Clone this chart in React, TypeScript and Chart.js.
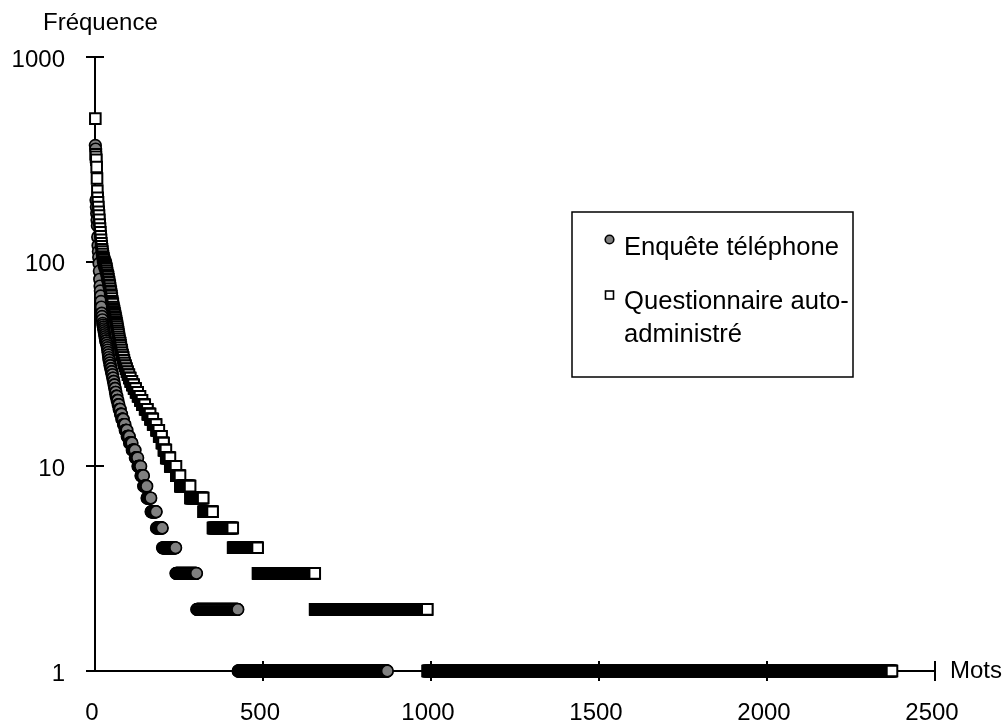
import React, { useEffect, useRef } from "react";
import { Chart, registerables } from "chart.js";

Chart.register(...registerables);

const FONT = "'Liberation Sans', Arial, sans-serif";

// Axis ticks
const xTickValues = [0, 500, 1000, 1500, 2000, 2500];
const yTickValues = [1, 10, 100, 1000];

// Axis titles and legend labels
const yTitle = "Fréquence";
const xTitle = "Mots";
const phoneLabel = "Enquête téléphone";
const selfLabelLines = ["Questionnaire auto-", "administré"];

// Enquête téléphone: frequency of each word, by rank (top words one by one)
const phoneTopFreqs = [
  370, 355, 200, 185, 172, 160, 150, 132, 120, 112, 105, 98, 90, 82, 76, 72,
  68, 64, 60, 56, 54, 52, 50, 49, 48, 47, 46, 45, 44, 43, 42,
];
// then the frequency spectrum: frequency level / number of words at that level
const phoneFreqs = [
  41, 40, 39, 38, 37, 36, 35, 34, 33, 32, 31, 30, 29, 28, 27, 26, 25, 24, 23,
  22, 21, 20, 19, 18, 17, 16, 15, 14, 13, 12, 11, 10, 9, 8, 7, 6, 5, 4, 3, 2, 1,
];
const phoneCounts = [
  2, 2, 1, 1, 1, 1, 1, 1, 2, 1, 2, 2, 2, 2, 2, 2, 2, 2, 2,
  3, 3, 3, 4, 4, 5, 5, 6, 7, 8, 9, 8, 9, 8, 10, 12, 16, 18, 40, 62, 123, 445,
];

// Questionnaire auto-administré: top words one by one
const selfTopFreqs = [
  500, 335, 325, 315, 290, 255, 222, 205, 195, 185, 175, 168, 160, 152, 145,
  139, 133, 128, 123, 119, 115, 112, 109, 106, 104, 102, 100, 99, 98, 97, 96,
  95, 93, 92, 90, 88, 86, 85, 84, 82, 80, 79, 77, 76, 74, 72, 71, 69, 68, 66,
  64, 63, 62, 60, 59, 58, 57, 56, 55, 54, 53, 52, 51, 50, 49, 48, 47, 46, 45,
];
// then the frequency spectrum
const selfFreqs = [
  44, 43, 42, 41, 40, 39, 38, 37, 36, 35, 34, 33, 32, 31, 30, 29, 28, 27, 26,
  25, 24, 23, 22, 21, 20, 19, 18, 17, 16, 15, 14, 13, 12, 11, 10, 9, 8, 7, 6,
  5, 4, 3, 2, 1,
];
const selfCounts = [
  1, 1, 1, 1, 2, 1, 1, 2, 1, 2, 2, 2, 2, 3, 3, 3, 4, 4, 5,
  5, 6, 6, 7, 6, 8, 8, 8, 8, 10, 8, 8, 6, 7, 12, 18, 12, 30, 39, 28,
  60, 74, 170, 335, 1383,
];

function rankPoints(top: number[], freqs: number[], counts: number[]) {
  const pts: { x: number; y: number }[] = [];
  let rank = 0;
  top.forEach((f) => {
    rank += 1;
    pts.push({ x: rank, y: f });
  });
  freqs.forEach((f, i) => {
    for (let k = 0; k < counts[i]; k++) {
      rank += 1;
      pts.push({ x: rank, y: f });
    }
  });
  return pts;
}

function baseY(scales: any) {
  return Math.round(scales.y.getPixelForValue(1));
}

const customPlugin = {
  id: "customAxesLegend",
  beforeDatasetsDraw(chart: any) {
    const { ctx, scales } = chart;
    const xs = scales.x;
    const ys = scales.y;
    const x0 = Math.round(xs.getPixelForValue(0));
    const x1 = Math.round(xs.getPixelForValue(2500));
    const yb = baseY(scales);
    const yt = Math.round(ys.getPixelForValue(1000));
    ctx.save();
    ctx.strokeStyle = "#000";
    ctx.lineWidth = 2;
    ctx.beginPath();
    ctx.moveTo(x0, yt);
    ctx.lineTo(x0, yb);
    ctx.moveTo(x0, yb);
    ctx.lineTo(x1, yb);
    yTickValues.forEach((v) => {
      const y = Math.round(ys.getPixelForValue(v));
      ctx.moveTo(x0 - 9, y);
      ctx.lineTo(x0 + 9, y);
    });
    xTickValues.forEach((v) => {
      if (v === 0) return;
      const x = Math.round(xs.getPixelForValue(v));
      ctx.moveTo(x, yb - 10);
      ctx.lineTo(x, yb + 10);
    });
    ctx.stroke();
    ctx.restore();
  },
  afterDraw(chart: any) {
    const { ctx, scales } = chart;
    const yb = baseY(scales);
    ctx.save();
    ctx.fillStyle = "#000";
    ctx.font = `24px ${FONT}`;
    ctx.textAlign = "left";
    ctx.textBaseline = "alphabetic";
    ctx.fillText(yTitle, 43, 29.5);
    ctx.textBaseline = "middle";
    ctx.fillText(xTitle, 950, yb);

    // legend box
    ctx.lineWidth = 1.5;
    ctx.strokeStyle = "#000";
    ctx.fillStyle = "#fff";
    ctx.fillRect(572, 212, 281, 165);
    ctx.strokeRect(572, 212, 281, 165);

    // circle marker
    ctx.beginPath();
    ctx.arc(609.5, 239.5, 4.3, 0, Math.PI * 2);
    ctx.fillStyle = "#808080";
    ctx.fill();
    ctx.lineWidth = 1.6;
    ctx.stroke();
    // square marker
    ctx.fillStyle = "#fff";
    ctx.fillRect(605.5, 291, 8, 8);
    ctx.strokeRect(605.5, 291, 8, 8);

    ctx.fillStyle = "#000";
    ctx.font = `25.6px ${FONT}`;
    ctx.textBaseline = "alphabetic";
    ctx.fillText(phoneLabel, 624, 255);
    ctx.fillText(selfLabelLines[0], 624, 308.5);
    ctx.fillText(selfLabelLines[1], 624, 342);
    ctx.restore();
  },
};

export default function App() {
  const ref = useRef<HTMLCanvasElement>(null);
  useEffect(() => {
    const phonePts = rankPoints(phoneTopFreqs, phoneFreqs, phoneCounts);
    const selfPts = rankPoints(selfTopFreqs, selfFreqs, selfCounts);
    const chart = new Chart(ref.current as HTMLCanvasElement, {
      type: "scatter",
      data: {
        datasets: [
          {
            label: selfLabelLines.join(""),
            data: selfPts,
            pointStyle: "rect",
            pointRadius: 7.5,
            pointBackgroundColor: "#ffffff",
            pointBorderColor: "#000000",
            pointBorderWidth: 2,
            showLine: false,
            clip: false as any,
          },
          {
            label: phoneLabel,
            data: phonePts,
            pointStyle: "circle",
            pointRadius: 5.8,
            pointBackgroundColor: "#808080",
            pointBorderColor: "#000000",
            pointBorderWidth: 1.7,
            showLine: false,
            clip: false as any,
          },
        ],
      },
      options: {
        responsive: false,
        animation: false,
        devicePixelRatio: 1,
        events: [],
        layout: { padding: { top: 57, right: 68, left: 0, bottom: 0 } },
        plugins: {
          legend: { display: false },
          tooltip: { enabled: false },
          title: { display: false },
        },
        scales: {
          x: {
            type: "linear",
            position: "bottom",
            min: 0,
            max: 2500,
            afterFit(s: any) {
              s.height = 55;
            },
            afterBuildTicks(s: any) {
              s.ticks = xTickValues.map((v) => ({ value: v }));
            },
            grid: { display: false, drawTicks: false },
            border: { display: false },
            ticks: {
              padding: 28,
              labelOffset: -3,
              color: "#000",
              font: { family: FONT, size: 24 },
              maxRotation: 0,
              autoSkip: false,
              callback: (v: any) => String(v),
            },
          },
          y: {
            type: "logarithmic",
            position: "left",
            min: 1,
            max: 1000,
            afterFit(s: any) {
              s.width = 95;
            },
            afterBuildTicks(s: any) {
              s.ticks = yTickValues.map((v) => ({ value: v }));
            },
            grid: { display: false, drawTicks: false },
            border: { display: false },
            ticks: {
              padding: 30,
              labelOffset: 3,
              color: "#000",
              font: { family: FONT, size: 24 },
              autoSkip: false,
              callback: (v: any) => String(v),
            },
          },
        },
      } as any,
      plugins: [customPlugin],
    });
    return () => chart.destroy();
  }, []);
  return (
    <div
      style={{
        position: "absolute",
        left: 0,
        top: 0,
        width: 1003,
        height: 726,
        background: "#fff",
      }}
    >
      <canvas
        ref={ref}
        width={1003}
        height={726}
        style={{ display: "block", width: 1003, height: 726 }}
      />
    </div>
  );
}
